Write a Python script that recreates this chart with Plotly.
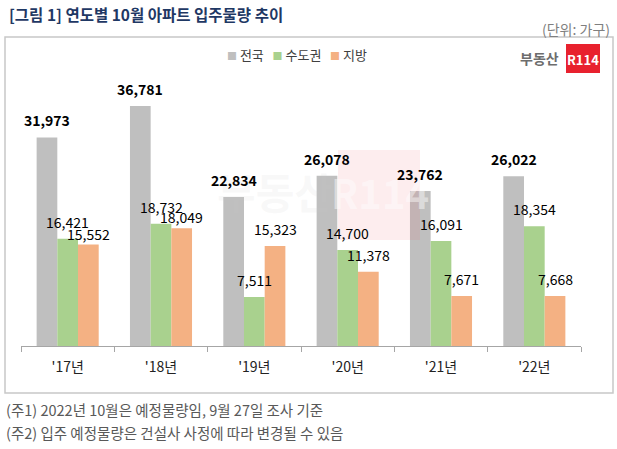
import plotly.graph_objects as go

years = ["'17년", "'18년", "'19년", "'20년", "'21년", "'22년"]
nationwide = [31973, 36781, 22834, 26078, 23762, 26022]
capital = [16421, 18732, 7511, 14700, 16091, 18354]
local = [15552, 18049, 15323, 11378, 7671, 7668]

series_names = ["전국", "수도권", "지방"]
colors = ["#bfbfbf", "#a9d18e", "#f4b183"]

W, H = 617, 449
FONT = "Noto Sans CJK KR"
BARGAP = 0.335

pl, pr, pt, pb = 21, W - 36, 85, H - 103
cat_px = (pr - pl) / len(years)
bar_px = cat_px * (1 - BARGAP) / 3

fig = go.Figure()
series = [nationwide, capital, local]
for name, vals, col in zip(series_names, series, colors):
    fig.add_trace(go.Bar(
        x=years, y=vals, name=name, marker_color=col, marker_line_width=0,
        showlegend=False, hoverinfo="skip",
    ))

fig.update_layout(
    width=W, height=H,
    margin=dict(l=pl, r=W - pr, t=pt, b=H - pb),
    paper_bgcolor="white", plot_bgcolor="white",
    barmode="group", bargap=BARGAP, bargroupgap=0,
    font=dict(family=FONT, color="#000000"),
    xaxis=dict(showline=True, linecolor="#a6a6a6", linewidth=1,
               ticks="outside", tickson="boundaries", ticklen=5, tickcolor="#a6a6a6",
               tickfont=dict(family=FONT, size=14, color="#222222"),
               ticklabelstandoff=8, showgrid=False, fixedrange=True),
    yaxis=dict(range=[0, 40000], visible=False, showgrid=False, fixedrange=True),
)

def to_paper_x(x):
    return (x - pl) / (pr - pl)
def to_paper_y(y):
    return (pb - y) / (pb - pt)

def rect(x0, x1, y0, y1, **kw):
    d = dict(type="rect", xref="paper", yref="paper",
             x0=to_paper_x(x0), x1=to_paper_x(x1),
             y0=to_paper_y(y1), y1=to_paper_y(y0))
    d.update(kw)
    return d

shapes = [
    rect(5, 613, 37, 393, line=dict(color="#c8c8c8", width=1.5),
         fillcolor="rgba(0,0,0,0)", layer="below"),
    rect(338, 420, 150, 240, line=dict(width=0),
         fillcolor="rgba(240,80,90,0.10)", layer="above"),
    rect(566, 600, 44, 73, line=dict(width=0), fillcolor="#e8212e"),
]
fig.update_layout(shapes=shapes)

legend_text = "   ".join(
    f"<span style='color:{c};font-size:10px'>■</span> {n}" for n, c in zip(series_names, colors))

ann = [
    dict(text="<b>[그림 1] 연도별 10월 아파트 입주물량 추이</b>", x=7, y=14, xanchor="left",
         font=dict(size=15.5, color="#1f3864")),
    dict(text="(단위: 가구)", x=612, y=29, xanchor="right",
         font=dict(size=14, color="#7f7f7f")),
    dict(text=legend_text, x=297, y=55, xanchor="center",
         font=dict(size=13, color="#404040")),
    dict(text="(주1) 2022년 10월은 예정물량임, 9월 27일 조사 기준", x=4, y=409, xanchor="left",
         font=dict(size=14.5, color="#595959")),
    dict(text="(주2) 입주 예정물량은 건설사 사정에 따라 변경될 수 있음", x=4, y=432, xanchor="left",
         font=dict(size=14.5, color="#595959")),
    dict(text="<b>부동산</b>", x=561, y=58, xanchor="right",
         font=dict(size=14, color="#6d6d6d")),
    dict(text="<b>R114</b>", x=583, y=59, xanchor="center",
         font=dict(size=13, color="#ffffff")),
    dict(text="<b>부동산</b>", x=335, y=190, xanchor="right",
         font=dict(size=42, color="rgba(200,200,200,0.12)")),
    dict(text="<b>R114</b>", x=380, y=192, xanchor="center",
         font=dict(size=40, color="rgba(255,255,255,0.45)")),
]
for a in ann:
    a.update(xref="paper", yref="paper", showarrow=False, yanchor="middle")
    a["x"] = to_paper_x(a["x"]); a["y"] = to_paper_y(a["y"])
    a["font"]["family"] = FONT

# value labels, drawn above all bars; a right-hand label that would collide with
# its left neighbour's label is tucked closer to its bar (as in the reference)
for i, vals in enumerate(series):
    shift = (i - 1) * bar_px
    for j, (cat, v) in enumerate(zip(years, vals)):
        ys = 5
        if i == 2 and abs(capital[j] - v) < 1500:
            ys = -1
        ann.append(dict(
            x=cat, y=v, xref="x", yref="y", xshift=shift, yshift=ys,
            text=f"<b>{v:,}</b>" if i == 0 else f"{v:,}",
            showarrow=False, xanchor="center", yanchor="bottom",
            font=dict(family=FONT, size=14, color="#000000"),
        ))
fig.update_layout(annotations=ann)

fig.write_html("out.html",
               config={"displayModeBar": False, "staticPlot": True},
               post_script="document.body.style.margin='0';document.body.style.padding='0';")
